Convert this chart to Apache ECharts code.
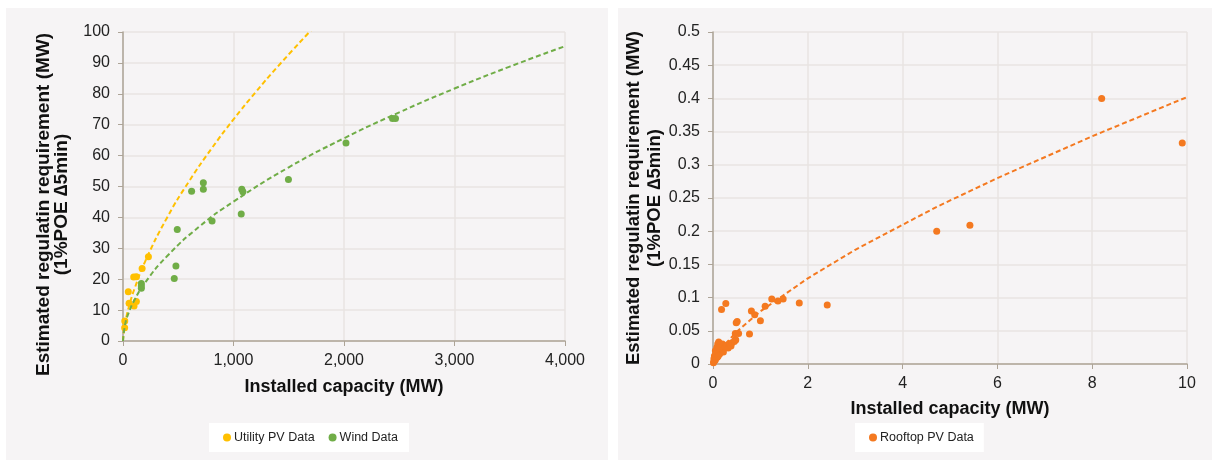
<!DOCTYPE html>
<html>
<head>
<meta charset="utf-8">
<script src="https://cdn.jsdelivr.net/npm/echarts@6/dist/echarts.min.js"></script>
<style>
html,body{margin:0;padding:0;background:#ffffff;}
#chart{width:1215px;height:460px;}
</style>
</head>
<body>
<div id="chart"></div>
<script>
// ---- Data ----
const utilityPV = [[15,4.3],[16,6.5],[48,15.9],[55,12.2],[100,11.3],[121,12.8],[97,20.7],[121,20.8],[173,23.5],[230,27.3]];
const wind = [[166,18.6],[166,17.1],[166,17.8],[491,36.1],[479,24.3],[464,20.2],[621,48.5],[727,51.2],[727,49.1],[806,38.8],[1070,41.1],[1075,49.1],[1085,48.3],[1497,52.3],[2018,64.1],[2439,72],[2466,72]];
const utilityTrendX = [0,10,30,60,100,200,400,600,800,1000,1200,1400,1700];
const utilityTrendY = [0,3.8,7.7,11.9,16.5,25.7,40.0,51.8,62.2,71.7,80.5,88.8,100.5];
const windTrendX = [0,20,50,100,200,400,700,1000,1500,2000,2500,3000,3500,4000];
const windTrendY = [0,5.5,9.0,13.0,18.9,27.5,37.3,45.1,56.2,65.6,74.0,81.7,88.8,95.4];

const rooftopPV = [[0.01,0.002],[0.02,0.004],[0.03,0.005],[0.04,0.008],[0.05,0.006],[0.06,0.01],[0.07,0.012],[0.08,0.015],[0.09,0.01],[0.1,0.018],[0.1,0.03],[0.12,0.033],[0.12,0.02],[0.14,0.015],[0.15,0.025],[0.16,0.028],[0.18,0.02],[0.2,0.022],[0.2,0.03],[0.22,0.018],[0.25,0.025],[0.27,0.027],[0.3,0.028],[0.32,0.024],[0.35,0.03],[0.38,0.027],[0.4,0.032],[0.45,0.034],[0.48,0.036],[0.05,0.02],[0.08,0.025],[0.03,0.012],[0.02,0.008],[0.06,0.016],[0.11,0.012],[0.13,0.024],[0.47,0.037],
  [0.18,0.082],[0.27,0.091],[0.81,0.080],[0.88,0.074],[1.0,0.065],[1.10,0.087],[1.24,0.098],[1.37,0.095],[1.48,0.098],[1.82,0.092],[2.41,0.089],[0.49,0.062],[0.51,0.064],[0.47,0.046],[0.54,0.046],[0.77,0.045],[4.72,0.200],[5.42,0.209],[8.2,0.400],[9.9,0.333]];
const rooftopTrendX = [0,0.05,0.2,0.5,1,2,3,4.7,6,8,10];
const rooftopTrendY = [0,0.0096,0.0255,0.0486,0.0793,0.129,0.172,0.236,0.280,0.343,0.402];

const leftXTicks = {min:0, max:4000, interval:1000};
const leftYTicks = {min:0, max:100, interval:10};
const rightXTicks = {min:0, max:10, interval:2};
const rightYTicks = {min:0, max:0.5, interval:0.05};

const yName = 'Estimated regulatin requirement (MW)\n(1%POE \u22065min)';
const xName = 'Installed capacity (MW)';

// ---- Styles ----
const FONT = '"Liberation Sans", Arial, sans-serif';
const axisColor = '#ADA497';
const gridColor = '#E8E5E2';
const cYellow = '#FFC000';
const cGreen = '#70AD47';
const cOrange = '#F47920';

function pair(xs, ys){ return xs.map((x,i)=>[x, ys[i]]); }

function xAxisCfg(idx, ticks, gap, commas){
  return {
    type:'value', gridIndex:idx, min:ticks.min, max:ticks.max, interval:ticks.interval,
    name:xName, nameLocation:'middle', nameGap:gap,
    nameTextStyle:{fontFamily:FONT, fontSize:18, fontWeight:'bold', color:'#111'},
    axisLine:{show:true, lineStyle:{color:axisColor, width:1.5}},
    axisTick:{show:true, length:5, lineStyle:{color:axisColor}},
    axisLabel:{fontFamily:FONT, fontSize:16, color:'#222', margin:12,
      formatter: commas ? (v)=>v.toLocaleString('en-US') : null},
    splitLine:{show:true, lineStyle:{color:gridColor, width:1.5}}
  };
}
function yAxisCfg(idx, ticks, gap, pad, lh, fs){
  return {
    type:'value', gridIndex:idx, min:ticks.min, max:ticks.max, interval:ticks.interval,
    name:yName, nameLocation:'middle', nameGap:gap,
    nameTextStyle:{fontFamily:FONT, fontSize:fs, fontWeight:'bold', color:'#111', lineHeight:lh, padding:pad},
    axisLine:{show:true, lineStyle:{color:axisColor, width:1.5}},
    axisTick:{show:true, length:5, lineStyle:{color:axisColor}},
    axisLabel:{fontFamily:FONT, fontSize:16, color:'#222', margin:13},
    splitLine:{show:true, lineStyle:{color:gridColor, width:1.5}}
  };
}

const chart = echarts.init(document.getElementById('chart'), null, {renderer:'canvas'});
chart.setOption({
  animation:false,
  backgroundColor:'#ffffff',
  graphic:[
    {type:'rect', z:-10, silent:true, shape:{x:6, y:8, width:602, height:452}, style:{fill:'#F6F4F5'}},
    {type:'rect', z:-10, silent:true, shape:{x:618, y:8, width:594, height:452}, style:{fill:'#F6F4F5'}}
  ],
  grid:[
    {left:123, right:650, top:32, bottom:119, containLabel:false, outerBoundsMode:'none'},
    {left:713, right:28, top:32, bottom:96, containLabel:false, outerBoundsMode:'none'}
  ],
  xAxis:[ xAxisCfg(0, leftXTicks, 37, true), xAxisCfg(1, rightXTicks, 36, false) ],
  yAxis:[ yAxisCfg(0, leftYTicks, 52, [0,36,0,0], 18, 19), yAxisCfg(1, rightYTicks, 47, [0,0,0,0], 21, 18.5) ],
  legend:[
    {data:['Utility PV Data','Wind Data'], left:209, top:423, backgroundColor:'#ffffff',
      padding:[8,11,8,14], itemGap:14, itemWidth:8, itemHeight:8, icon:'circle',
      textStyle:{fontFamily:FONT, fontSize:12.5, color:'#222', padding:[0,0,0,-2]}},
    {data:['Rooftop PV Data'], left:855, top:423, backgroundColor:'#ffffff',
      padding:[8,10,8,14], itemWidth:8, itemHeight:8, icon:'circle',
      textStyle:{fontFamily:FONT, fontSize:12.5, color:'#222', padding:[0,0,0,-2]}}
  ],
  series:[
    {name:'Utility PV Data', type:'scatter', xAxisIndex:0, yAxisIndex:0, data:utilityPV,
      symbolSize:7, itemStyle:{color:cYellow, opacity:1}},
    {name:'Wind Data', type:'scatter', xAxisIndex:0, yAxisIndex:0, data:wind,
      symbolSize:7, itemStyle:{color:cGreen, opacity:1}},
    {name:'utilTrend', type:'line', xAxisIndex:0, yAxisIndex:0, data:pair(utilityTrendX, utilityTrendY),
      showSymbol:false, symbol:'none', smooth:true, clip:true,
      lineStyle:{color:cYellow, width:2, type:[5,3]}},
    {name:'windTrend', type:'line', xAxisIndex:0, yAxisIndex:0, data:pair(windTrendX, windTrendY),
      showSymbol:false, symbol:'none', smooth:true, clip:true,
      lineStyle:{color:cGreen, width:2, type:[5,3]}},
    {name:'Rooftop PV Data', type:'scatter', xAxisIndex:1, yAxisIndex:1, data:rooftopPV,
      symbolSize:7, itemStyle:{color:cOrange, opacity:1}},
    {name:'roofTrend', type:'line', xAxisIndex:1, yAxisIndex:1, data:pair(rooftopTrendX, rooftopTrendY),
      showSymbol:false, symbol:'none', smooth:false, clip:true,
      lineStyle:{color:cOrange, width:2, type:[5,3]}}
  ]
});
</script>
</body>
</html>
